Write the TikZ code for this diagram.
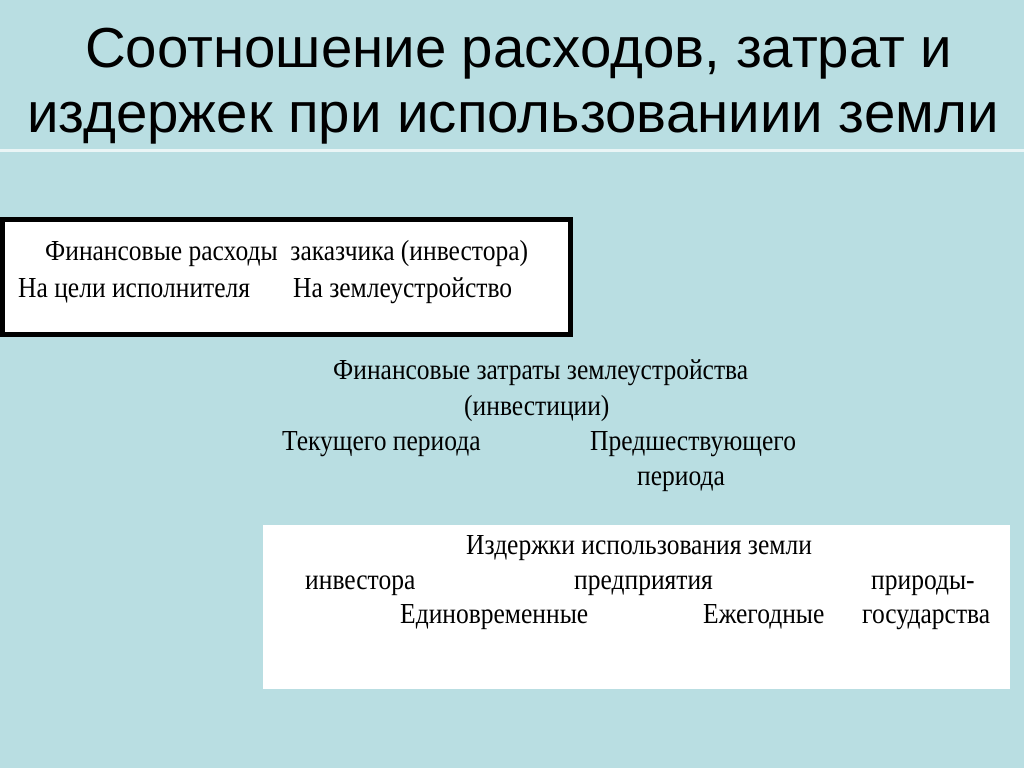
\documentclass[tikz,border=0pt]{standalone}
\usepackage{fontspec}
\setmainfont{Liberation Serif}[FakeStretch=0.88]
\newfontfamily\titlefont{Liberation Sans}
\definecolor{bg}{RGB}{185,222,226}
\begin{document}
\begin{tikzpicture}[x=1pt,y=-1pt,
  title/.style={inner sep=0pt, anchor=base west, font=\titlefont\fontsize{56.4}{60}\selectfont},
  txt/.style={inner sep=0pt, anchor=base west, font=\fontsize{29}{32}\selectfont},
  panel/.style={fill=white, inner sep=0pt}]
\fill[bg] (0,0) rectangle (1024,768);
\useasboundingbox (0,0) rectangle (1024,768);
\fill[white!70!bg] (0,149) rectangle (1024,152);
\node[title] (t1) at (85,67) {Соотношение расходов, затрат и};
\node[title] (t2) at (27,132) {издержек при использованиии земли};
% box 1
\node[panel, draw=black, line width=5pt, minimum width=568pt, minimum height=115pt] (box1) at (286.5,277) {};
\node[txt] (a1) at (45,260) {Финансовые расходы\ \ заказчика (инвестора)};
\node[txt] (a2) at (18,297) {На цели исполнителя};
\node[txt] (a3) at (293,297) {На землеустройство};
% middle
\node[txt] (b1) at (333,379) {Финансовые затраты землеустройства};
\node[txt] (b2) at (464,415) {(инвестиции)};
\node[txt] (b3) at (282,450) {Текущего периода};
\node[txt] (b4) at (590,450) {Предшествующего};
\node[txt] (b5) at (637,485) {периода};
% box 3
\node[panel, minimum width=747pt, minimum height=164pt] (box3) at (636.5,607) {};
\node[txt] (c1) at (466,554) {Издержки использования земли};
\node[txt] (c2) at (305,589) {инвестора};
\node[txt] (c3) at (574,589) {предприятия};
\node[txt] (c4) at (871,589) {природы-};
\node[txt] (c5) at (400,623) {Единовременные};
\node[txt] (c6) at (703,623) {Ежегодные};
\node[txt] (c7) at (862,623) {государства};
\end{tikzpicture}
\end{document}
